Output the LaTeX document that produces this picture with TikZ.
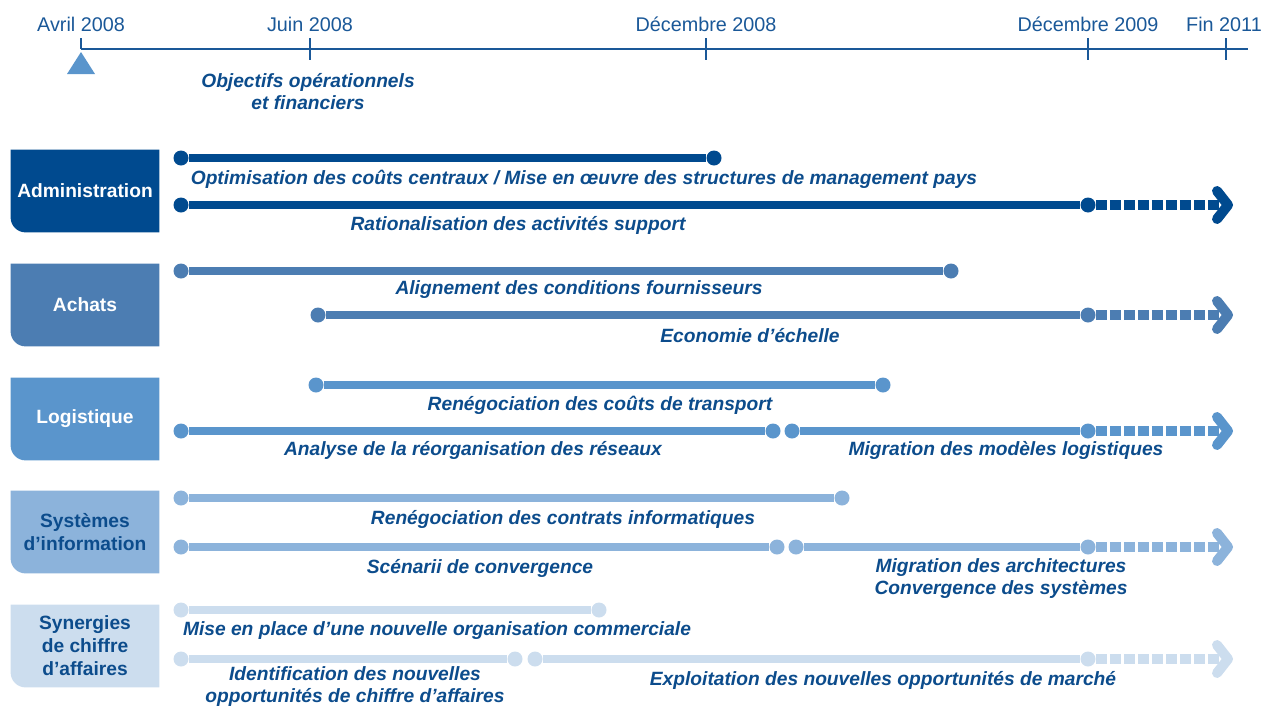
\documentclass[tikz,border=0pt]{standalone}
\usepackage{fontspec}
\setmainfont{Liberation Sans}
\usetikzlibrary{positioning,backgrounds}

\definecolor{adminblue}{RGB}{0,74,143}
\definecolor{achatsblue}{RGB}{76,125,178}
\definecolor{logblue}{RGB}{90,149,204}
\definecolor{sysblue}{RGB}{140,179,219}
\definecolor{synblue}{RGB}{204,221,238}
\definecolor{textblue}{RGB}{12,76,140}
\definecolor{dateblue}{RGB}{26,88,152}

\begin{document}
\begin{tikzpicture}
[x=0.5pt, y=-0.5pt,
% STYLES
% The row style is used for the coloured boxes on the left
row/.style={rectangle, inner sep=0pt, minimum width=74pt, minimum height=41pt, align=center, font=\bfseries\fontsize{9.6}{11.5}\selectfont},
% The dot style marks where an action starts and ends
dot/.style={circle, fill, inner sep=0pt, minimum size=7.5pt},
bar/.style={line width=3.6pt},
% The more style continues an action up to 2011
more/.style={line width=5pt, dash pattern=on 5.5pt off 1.5pt},
head/.style={line width=5pt, line cap=round, line join=round},
% The task style is used to write the actions' name
task/.style={text=textblue, inner sep=0pt, align=center, yshift=-1pt, font=\bfseries\itshape\fontsize{9.6}{11}\selectfont},
date/.style={text=dateblue, inner sep=0pt, font=\fontsize{9.9}{11}\selectfont}]

\useasboundingbox (0,0) rectangle (1262,707);

% Draw the time line
\coordinate (start) at (81,49);
\coordinate (end) at (1248,49);
\draw[dateblue, line width=0.7pt] (start) -- (end);
\node[date] (avril) at (81,24) {Avril 2008};
\node[date] (juin) at (310,24) {Juin 2008};
\node[date] (dec8) at (706,24) {Décembre 2008};
\node[date] (dec9) at (1088,24) {Décembre 2009};
\node[date] (fin) at (1224,24) {Fin 2011};
\draw[dateblue, line width=0.7pt] (81,38) -- (81,49);
\foreach \x in {310,706,1088,1226}
    \draw[dateblue, line width=0.7pt] (\x,38) -- (\x,60);
\fill[logblue] (67,74) -- (81,52) -- (95,74) -- cycle;
\node[task] (objectifs) at (308,90) {Objectifs opérationnels\\et financiers};

% Draw the boxes
\node[row, text=white] (administration) at (85,191) {Administration};
\node[row, text=white] (achats) at (85,305) {Achats};
\node[row, text=white] (logistique) at (85,419) {Logistique};
\node[row, text=textblue] (systemes) at (85,532) {Systèmes\\d’information};
\node[row, text=textblue] (synergies) at (85,646) {Synergies\\de chiffre\\d’affaires};
\begin{scope}[on background layer]
\foreach \b/\c in {administration/adminblue, achats/achatsblue, logistique/logblue, systemes/sysblue, synergies/synblue}
    \fill[\c] (\b.north west) -- (\b.north east) -- (\b.south east)
        -- ([xshift=7.5pt]\b.south west) arc[start angle=270, end angle=180, radius=7.5pt] -- cycle;
\end{scope}

% ADMINISTRATION
\node[dot, adminblue] (adm1s) at (181,158) {};
\node[dot, adminblue] (adm1e) at (714,158) {};
\node[dot, adminblue] (adm2s) at (181,205) {};
\node[dot, adminblue] (adm2e) at (1088,205) {};
\coordinate (adm2tip) at (1228,205);
\path[bar, adminblue] (adm1s) edge (adm1e) (adm2s) edge (adm2e);
\draw[more, adminblue] (adm2e) -- (adm2tip);
\draw[head, adminblue] (adm2tip) ++(-11,-14) -- (adm2tip) -- ++(-11,14);
\node[task] (optimisation) at (584,177) {Optimisation des coûts centraux / Mise en œuvre des structures de management pays};
\node[task] (rationalisation) at (518,223) {Rationalisation des activités support};

% ACHATS
\node[dot, achatsblue] (ach1s) at (181,271) {};
\node[dot, achatsblue] (ach1e) at (951,271) {};
\node[dot, achatsblue] (ach2s) at (318,315) {};
\node[dot, achatsblue] (ach2e) at (1088,315) {};
\coordinate (ach2tip) at (1228,315);
\path[bar, achatsblue] (ach1s) edge (ach1e) (ach2s) edge (ach2e);
\draw[more, achatsblue] (ach2e) -- (ach2tip);
\draw[head, achatsblue] (ach2tip) ++(-11,-14) -- (ach2tip) -- ++(-11,14);
\node[task] (alignement) at (579,288) {Alignement des conditions fournisseurs};
\node[task] (economie) at (750,334) {Economie d’échelle};

% LOGISTIQUE
\node[dot, logblue] (log1s) at (316,385) {};
\node[dot, logblue] (log1e) at (883,385) {};
\node[dot, logblue] (log2s) at (181,431) {};
\node[dot, logblue] (log2e) at (773,431) {};
\node[dot, logblue] (log3s) at (792,431) {};
\node[dot, logblue] (log3e) at (1088,431) {};
\coordinate (log3tip) at (1228,431);
\path[bar, logblue] (log1s) edge (log1e) (log2s) edge (log2e) (log3s) edge (log3e);
\draw[more, logblue] (log3e) -- (log3tip);
\draw[head, logblue] (log3tip) ++(-11,-14) -- (log3tip) -- ++(-11,14);
\node[task] (transport) at (600,403) {Renégociation des coûts de transport};
\node[task] (analyse) at (473,448) {Analyse de la réorganisation des réseaux};
\node[task] (modeles) at (1006,448) {Migration des modèles logistiques};

% SYSTEMES D'INFORMATION
\node[dot, sysblue] (sys1s) at (181,498) {};
\node[dot, sysblue] (sys1e) at (842,498) {};
\node[dot, sysblue] (sys2s) at (181,547) {};
\node[dot, sysblue] (sys2e) at (777,547) {};
\node[dot, sysblue] (sys3s) at (796,547) {};
\node[dot, sysblue] (sys3e) at (1088,547) {};
\coordinate (sys3tip) at (1228,547);
\path[bar, sysblue] (sys1s) edge (sys1e) (sys2s) edge (sys2e) (sys3s) edge (sys3e);
\draw[more, sysblue] (sys3e) -- (sys3tip);
\draw[head, sysblue] (sys3tip) ++(-11,-14) -- (sys3tip) -- ++(-11,14);
\node[task] (contrats) at (563,517) {Renégociation des contrats informatiques};
\node[task] (scenarii) at (480,566) {Scénarii de convergence};
\node[task] (architectures) at (1001,577) {Migration des architectures\\Convergence des systèmes};

% SYNERGIES DE CHIFFRE D'AFFAIRES
\node[dot, synblue] (syn1s) at (181,610) {};
\node[dot, synblue] (syn1e) at (599,610) {};
\node[dot, synblue] (syn2s) at (181,659) {};
\node[dot, synblue] (syn2e) at (515,659) {};
\node[dot, synblue] (syn3s) at (535,659) {};
\node[dot, synblue] (syn3e) at (1088,659) {};
\coordinate (syn3tip) at (1228,659);
\path[bar, synblue] (syn1s) edge (syn1e) (syn2s) edge (syn2e) (syn3s) edge (syn3e);
\draw[more, synblue] (syn3e) -- (syn3tip);
\draw[head, synblue] (syn3tip) ++(-11,-14) -- (syn3tip) -- ++(-11,14);
\node[task] (organisation) at (437,629) {Mise en place d’une nouvelle organisation commerciale};
\node[task] (identification) at (355,685) {Identification des nouvelles\\opportunités de chiffre d’affaires};
\node[task] (exploitation) at (883,678) {Exploitation des nouvelles opportunités de marché};

\end{tikzpicture}
\end{document}
